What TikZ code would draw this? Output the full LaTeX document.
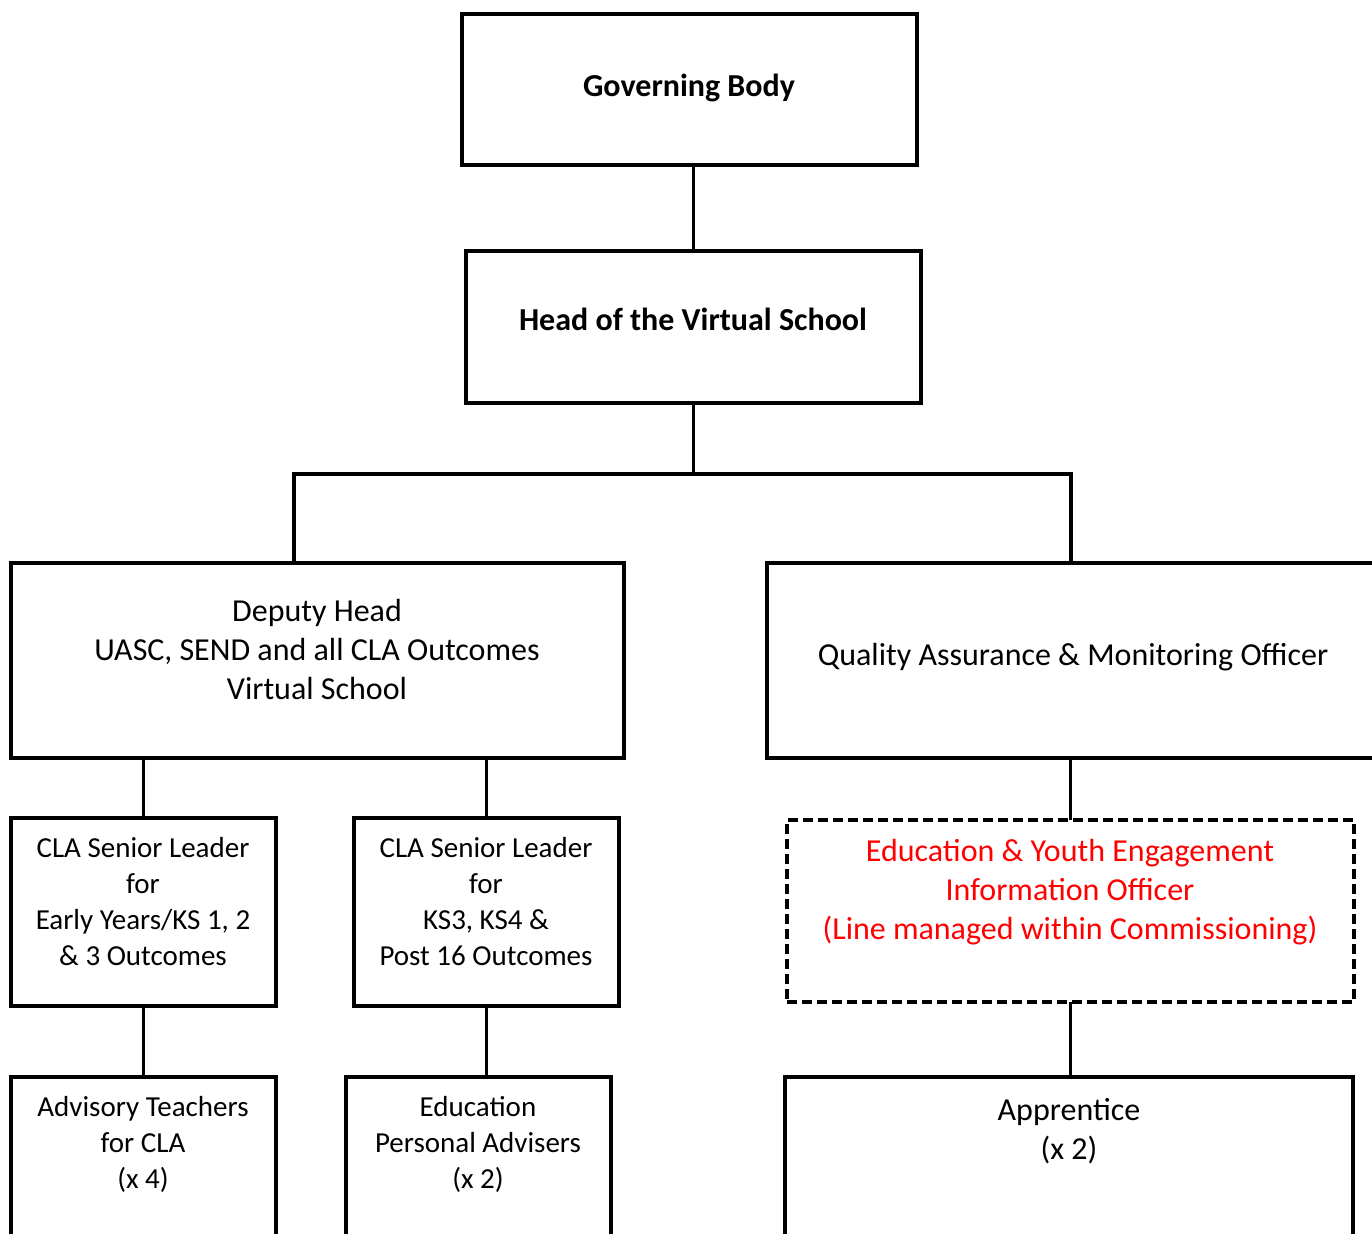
\documentclass[tikz,border=0pt]{standalone}
\usepackage{fontspec}
\setmainfont{Carlito}
\begin{document}
\begin{tikzpicture}[x=1pt,y=-1pt,
  box/.style={draw, line width=3.5pt, rectangle, anchor=north west, inner sep=0pt, outer sep=0pt},
  topbox/.style={box, line width=4.5pt},
  dbox/.style={box, dash pattern=on 10pt off 5pt},
  conn/.style={line width=3.5pt},
  big/.style={font=\fontsize{32}{39}\selectfont, align=center, anchor=base, inner sep=0pt},
  small/.style={font=\fontsize{29}{36}\selectfont, align=center, anchor=base, inner sep=0pt},
]
\useasboundingbox (0,0) rectangle (1372,1233);
\clip (0,0) rectangle (1372,1233);
% boxes
\node[topbox, minimum width=455pt, minimum height=151pt] (gb) at (462,14) {};
\node[topbox, minimum width=455pt, minimum height=152pt] (hd) at (466,251) {};
\node[box, minimum width=613pt, minimum height=195pt] (dep) at (11,563) {};
\node[box, minimum width=640pt, minimum height=195pt] (qa) at (767,563) {};
\node[box, minimum width=265pt, minimum height=188pt] (cla1) at (11,818) {};
\node[box, minimum width=265pt, minimum height=188pt] (cla2) at (354,818) {};
\node[dbox, minimum width=567pt, minimum height=182pt] (eyo) at (787,820) {};
\node[box, minimum width=265pt, minimum height=200pt] (adv) at (11,1077) {};
\node[box, minimum width=265pt, minimum height=200pt] (edu) at (346,1077) {};
\node[box, minimum width=568pt, minimum height=200pt] (app) at (785,1077) {};
% texts (anchor=base is the baseline of the last line)
\node[big, font=\fontsize{32}{39}\selectfont\bfseries] (tgb) at (689,97) {Governing Body};
\node[big, font=\fontsize{32}{39}\selectfont\bfseries] (thd) at (693,330) {Head of the Virtual School};
\node[big] (tdep) at (317,699) {Deputy Head\\UASC, SEND and all CLA Outcomes\\Virtual School};
\node[big] (tqa) at (1073,665) {Quality Assurance \& Monitoring Officer};
\node[small] (tcla1) at (143,965) {CLA Senior Leader\\for\\Early Years/KS 1, 2\\\& 3 Outcomes};
\node[small] (tcla2) at (486,965) {CLA Senior Leader\\for\\KS3, KS4 \&\\Post 16 Outcomes};
\node[big, text=red] (teyo) at (1070,939) {Education \& Youth Engagement\\Information Officer\\(Line managed within Commissioning)};
\node[small] (tadv) at (143,1188) {Advisory Teachers\\for CLA\\(x 4)};
\node[small] (tedu) at (478,1188) {Education\\Personal Advisers\\(x 2)};
\node[big] (tapp) at (1069,1159) {Apprentice\\(x 2)};
% connectors
\coordinate (barL) at (294,474);
\coordinate (barR) at (1071,474);
\draw[conn] (hd.north) -- (hd.north |- gb.south);
\draw[conn] (hd.south) -- (hd.south |- barL);
\draw[conn] (dep.north -| barL) -- (barL) -- (barR) -- (qa.north -| barR);
\draw[conn] (cla1.north) -- (cla1.north |- dep.south);
\draw[conn] (cla2.north) -- (cla2.north |- dep.south);
\draw[conn] (eyo.north) -- (eyo.north |- qa.south);
\draw[conn] (adv.north) -- (adv.north |- cla1.south);
\draw[conn] (cla2.south) -- (cla2.south |- edu.north);
\draw[conn] (eyo.south) -- (eyo.south |- app.north);
\end{tikzpicture}
\end{document}
